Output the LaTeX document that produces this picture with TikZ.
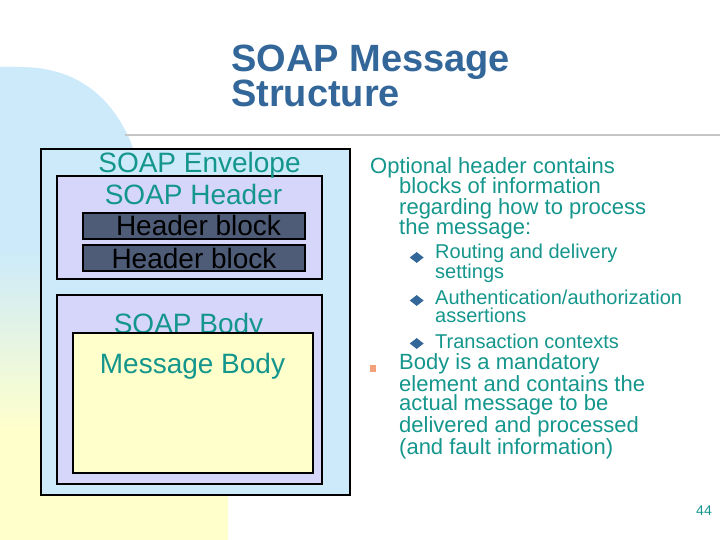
\documentclass[tikz,border=0pt]{standalone}
\usepackage{fontspec}
\setmainfont{Liberation Sans}
\usetikzlibrary{shapes.geometric}
\definecolor{soapteal}{RGB}{20,150,140}
\definecolor{titleblue}{RGB}{51,102,153}
\definecolor{bgblue}{RGB}{204,234,250}
\definecolor{bgyellow}{RGB}{255,255,204}
\definecolor{lavender}{RGB}{214,214,250}
\definecolor{slateblock}{RGB}{78,92,120}
\definecolor{salmon}{RGB}{244,160,122}
\begin{document}
\begin{tikzpicture}[
    x=1pt, y=-1pt,
    box/.style={draw, line width=2pt, inner sep=0},
    boxtext/.style={inner sep=0, anchor=base, font=\fontsize{28}{30}\selectfont},
    bodytext/.style={inner sep=0, anchor=base west, align=left, text=soapteal, font=\fontsize{22}{20.6}\selectfont},
    subtext/.style={inner sep=0, anchor=base west, align=left, text=soapteal, font=\fontsize{20}{17.8}\selectfont},
    subbullet/.style={diamond, fill=titleblue, inner sep=0, minimum width=14, minimum height=11}
]
\useasboundingbox (0,0) rectangle (720,540);
\begin{scope}
\clip (0,540) -- (0,67) -- (20,67) .. controls (75,67) and (110,95) .. (130,140) -- (228,420) -- (228,540) -- cycle;
\fill[bgblue] (0,0) rectangle (240,250);
\shade[top color=bgblue, bottom color=bgyellow] (0,250) rectangle (240,430);
\fill[bgyellow] (0,430) rectangle (240,540);
\end{scope}
\draw[gray!45, line width=1.5pt] (125,135) -- (720,135);
\node (title) [inner sep=0, anchor=base west, align=left, text=titleblue, font=\fontsize{38}{34}\selectfont\bfseries] at (231,107) {SOAP Message\\Structure};
\node (soap_envelope) [box, fill=bgblue, minimum width=309, minimum height=346] at (195,322) {};
\node (soap_header) [box, fill=lavender, minimum width=265, minimum height=103] at (189.5,227.5) {};
\node (header_block_one) [box, fill=slateblock, minimum width=222, minimum height=26] at (194,226) {};
\node (header_block_two) [box, fill=slateblock, minimum width=222, minimum height=26] at (194,258) {};
\node (soap_body) [box, fill=lavender, minimum width=265, minimum height=189] at (189.5,389.5) {};
\node (envelope_label) [boxtext, text=soapteal] at (199.5,173) {SOAP Envelope};
\node (header_label) [boxtext, text=soapteal] at (193.5,205) {SOAP Header};
\node (header_block_one_label) [boxtext] at (198.5,236) {Header block};
\node (header_block_two_label) [boxtext] at (194,268) {Header block};
\node (body_label) [boxtext, text=soapteal] at (188.5,333) {SOAP Body};
\node (message_body) [box, fill=bgyellow, minimum width=240, minimum height=140] at (193,403) {};
\node (message_label) [boxtext, text=soapteal] at (192.5,373) {Message Body};
\node (header_note) [bodytext] at (370,235) {Optional header contains\\\hspace*{29pt}blocks of information\\\hspace*{29pt}regarding how to process\\\hspace*{29pt}the message:};
\node (routing_bullet) [subbullet] at (416.7,257.5) {};
\node (routing_item) [subtext] at (435,278.3) {Routing and delivery\\settings};
\node (auth_bullet) [subbullet] at (416.7,300.5) {};
\node (auth_item) [subtext] at (435,322.3) {Authentication/authorization\\assertions};
\node (transaction_bullet) [subbullet] at (416.7,343.5) {};
\node (transaction_item) [subtext] at (435,348.3) {Transaction contexts};
\node (body_bullet) [rectangle, fill=salmon, inner sep=0, minimum width=6, minimum height=7] at (373,368.5) {};
\node (body_note) [bodytext, font=\fontsize{22}{19.9}\selectfont] at (399,454) {Body is a mandatory\\element and contains the\\actual message to be\\delivered and processed\\(and fault information)};
\node (page_number) [inner sep=0, anchor=base east, text=soapteal, font=\fontsize{14}{16}\selectfont] at (712,515) {44};
\end{tikzpicture}
\end{document}
